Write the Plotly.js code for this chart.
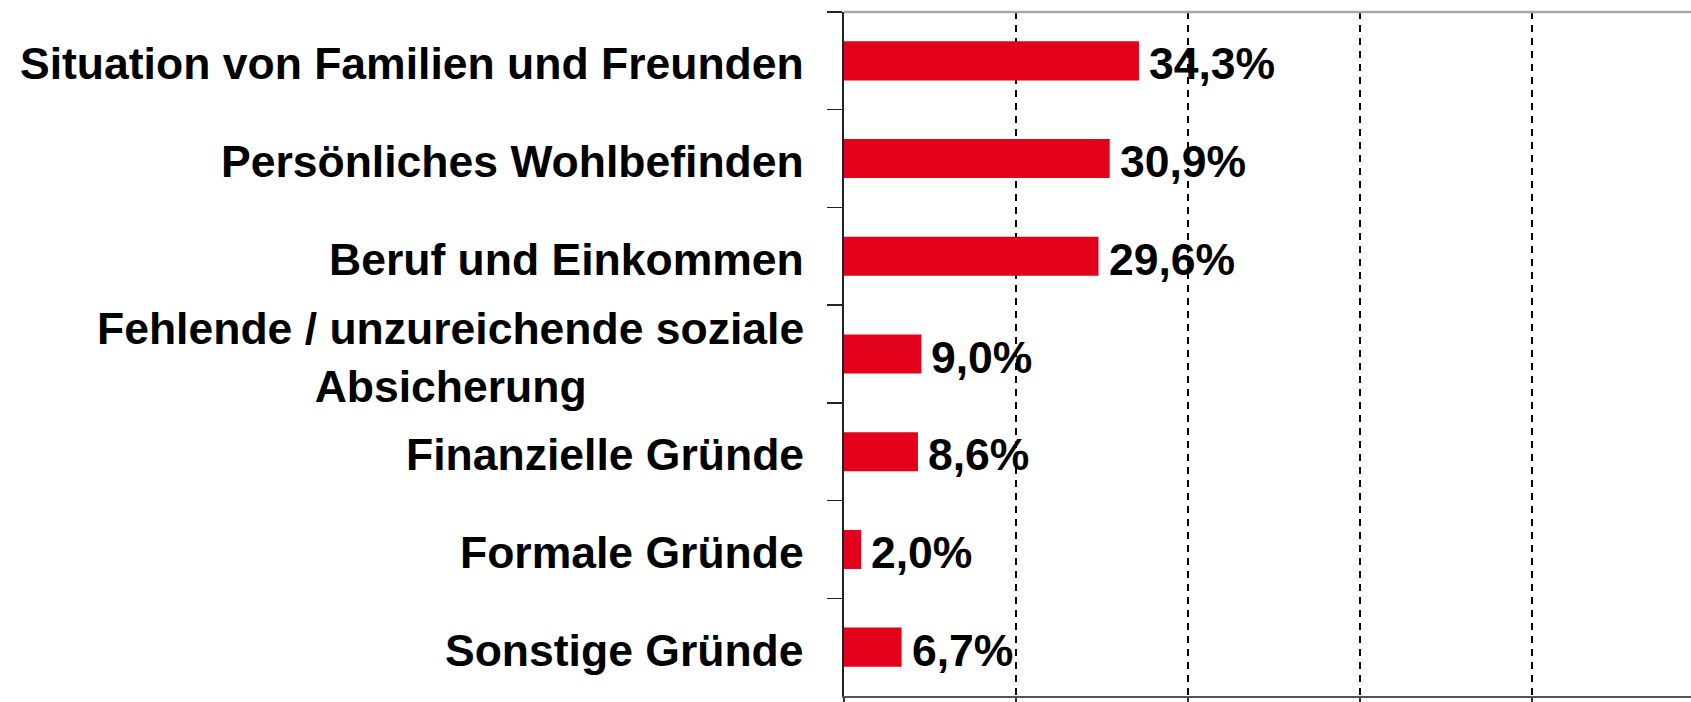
<!DOCTYPE html>
<html>
<head>
<meta charset="utf-8">
<script src="https://cdn.plot.ly/plotly-3.0.1.min.js"></script>
<style>html,body{margin:0;padding:0;background:#fff;}#chart{width:1691px;height:702px;}</style>
</head>
<body>
<div id="chart"></div>
<script>
const categories = [
  "Situation von Familien und Freunden",
  "Persönliches Wohlbefinden",
  "Beruf und Einkommen",
  "Fehlende / unzureichende soziale<br>Absicherung",
  "Finanzielle Gründe",
  "Formale Gründe",
  "Sonstige Gründe"
];
const values = [34.3, 30.9, 29.6, 9.0, 8.6, 2.0, 6.7];
const valueLabels = ["34,3%", "30,9%", "29,6%", "9,0%", "8,6%", "2,0%", "6,7%"];
const gridTicks = [0, 20, 40, 60, 80, 100];

const FONT = {family: "'Liberation Sans', Arial, sans-serif", size: 44.5, color: "#000", weight: 700};

const trace = {
  type: "bar",
  orientation: "h",
  y: categories,
  x: values,
  width: 0.4,
  marker: {color: "#e2001a", line: {width: 0}},
  hoverinfo: "skip"
};

const annotations = [];
categories.forEach((c, i) => {
  annotations.push({
    xref: "paper", yref: "y", x: 0, y: c,
    xanchor: "right", yanchor: "middle", xshift: -38, yshift: -3,
    text: c, showarrow: false, align: "center", font: FONT
  });
  annotations.push({
    xref: "x", yref: "y", x: values[i], y: c,
    xanchor: "left", yanchor: "middle", xshift: 8, yshift: -3,
    text: valueLabels[i], showarrow: false, font: FONT
  });
});

const layout = {
  width: 1691, height: 702,
  margin: {l: 844, r: 0, t: 12, b: 6, pad: 0},
  paper_bgcolor: "#fff", plot_bgcolor: "#fff",
  showlegend: false,
  bargap: 0.6,
  xaxis: {
    range: [0, 98.5],
    tickvals: gridTicks,
    showticklabels: false,
    ticks: "outside", ticklen: 10, tickwidth: 1.5, tickcolor: "#333",
    showgrid: true, gridcolor: "#000", gridwidth: 1.2, griddash: "7px,6px",
    zeroline: false,
    showline: true, linecolor: "#555", linewidth: 2,
    fixedrange: true
  },
  yaxis: {
    type: "category",
    autorange: "reversed",
    showticklabels: false,
    ticks: "outside", tickson: "boundaries", ticklen: 15, tickwidth: 1.5, tickcolor: "#222",
    showgrid: false, zeroline: false,
    showline: true, linecolor: "#222", linewidth: 2,
    fixedrange: true
  },
  shapes: [
    {type: "line", xref: "paper", yref: "paper", x0: 0, x1: 1, y0: 1, y1: 1,
     line: {color: "#a8a8a8", width: 2.5}}
  ],
  annotations: annotations
};

Plotly.newPlot("chart", [trace], layout, {displayModeBar: false, staticPlot: true});
</script>
</body>
</html>
